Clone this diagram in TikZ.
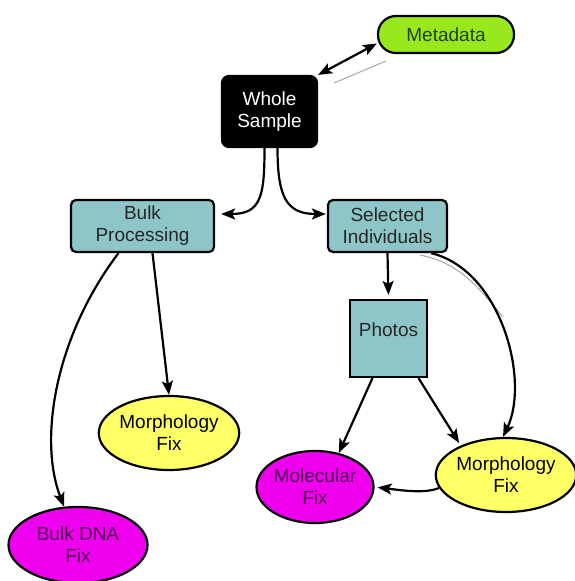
\documentclass[tikz,border=0pt]{standalone}
\usepackage{fontspec}
\setmainfont{Liberation Sans}
\usetikzlibrary{arrows.meta, shapes.geometric}

\definecolor{tealbox}{HTML}{8EC6C8}
\definecolor{limebox}{HTML}{99E81E}
\definecolor{yellowfix}{HTML}{FFFF66}
\definecolor{magentafix}{HTML}{EE00EE}
\definecolor{darkplum}{HTML}{50004F}
\definecolor{darkmoss}{HTML}{24400C}

\begin{document}
\begin{tikzpicture}[x=1pt, y=-1pt,
    box/.style={draw=black, line width=2.2pt, rounded corners=5pt, fill=tealbox,
        text=black!85, align=center, inner sep=0pt, font=\fontsize{19}{22}\selectfont},
    fixnode/.style={ellipse, draw=black, line width=2.2pt, align=center, inner sep=0pt,
        font=\fontsize{19}{22}\selectfont},
    arr/.style={-{Stealth[length=14pt,width=11pt,inset=3pt]}, line width=2.2pt},
    dblarr/.style={{Stealth[length=14pt,width=11pt,inset=3pt]}-{Stealth[length=14pt,width=11pt,inset=3pt]}, line width=2.2pt},
    ghost/.style={black!35, line width=1pt}]

        \useasboundingbox (0,0) rectangle (575,581);

        \node[box, fill=black, text=white, rounded corners=7pt, minimum width=95pt, minimum height=71pt] (whole) at (269.5,111.5) {Whole\\Sample};
        \node[box, fill=limebox, text=darkmoss, rounded corners=18pt, minimum width=136pt, minimum height=37pt] (meta) at (446,34.5) {Metadata};

        \node[box, minimum width=143pt, minimum height=52pt] (bulk) at (142.5,226) {Bulk\\Processing};
        \node[box, minimum width=119pt, minimum height=52pt] (sel) at (387.5,226) {Selected\\Individuals};
        \node[box, rounded corners=0pt, minimum width=77pt, minimum height=77pt, text height=14pt, text depth=18pt] (photos) at (388.5,338.5) {Photos};

        \node[fixnode, fill=yellowfix, minimum width=138pt, minimum height=74pt] (mfl) at (169,433) {Morphology\\Fix};
        \node[fixnode, fill=magentafix, text=darkplum, minimum width=139pt, minimum height=76pt] (bdna) at (78,545) {Bulk DNA\\Fix};
        \node[fixnode, fill=magentafix, text=darkplum, minimum width=117pt, minimum height=72pt] (mol) at (315,487) {Molecular\\Fix};
        \node[fixnode, fill=yellowfix, minimum width=132pt, minimum height=74pt] (mfr) at (506,475) {Morphology\\Fix};

        \coordinate (m1) at (334,83);
        \coordinate (m2) at (386,61);
        \coordinate (g1) at (420,255);
        \coordinate (g2) at (503,317);

        \draw[dblarr] (whole.north east) -- ([yshift=-9pt]meta.west);
        \draw[ghost] (m1) -- (m2);

        \draw[arr] ([xshift=-5pt]whole.south) .. controls +(0,48) and +(40,0) .. ([xshift=6pt,yshift=12pt]bulk.east);
        \draw[arr] ([xshift=8pt]whole.south) .. controls +(0,48) and +(-40,0) .. ([xshift=-1pt,yshift=12pt]sel.west);

        \draw[arr] ([xshift=-24pt]bulk.south) .. controls +(-63,83) and +(-26,-68) .. (bdna.110);
        \draw[arr] ([xshift=10pt]bulk.south) -- (mfl.north);

        \draw[arr, shorten >=4pt] (sel.south) -- (photos.north);
        \draw[ghost] (g1) .. controls +(40,8) and +(-25,-30) .. (g2);
        \draw[arr] ([xshift=-17pt]sel.south east) .. controls +(70,17) and +(27,-57) .. ([xshift=-3pt]mfr.north);

        \draw[arr] ([xshift=-16pt]photos.south) -- (mol.55);
        \draw[arr, shorten >=3pt] ([xshift=30pt]photos.south) -- (mfr.147);
        \draw[arr, shorten >=3pt] (mfr.191) .. controls +(-15,6) and +(25,3) .. (mol.east);
    \end{tikzpicture}
\end{document}
